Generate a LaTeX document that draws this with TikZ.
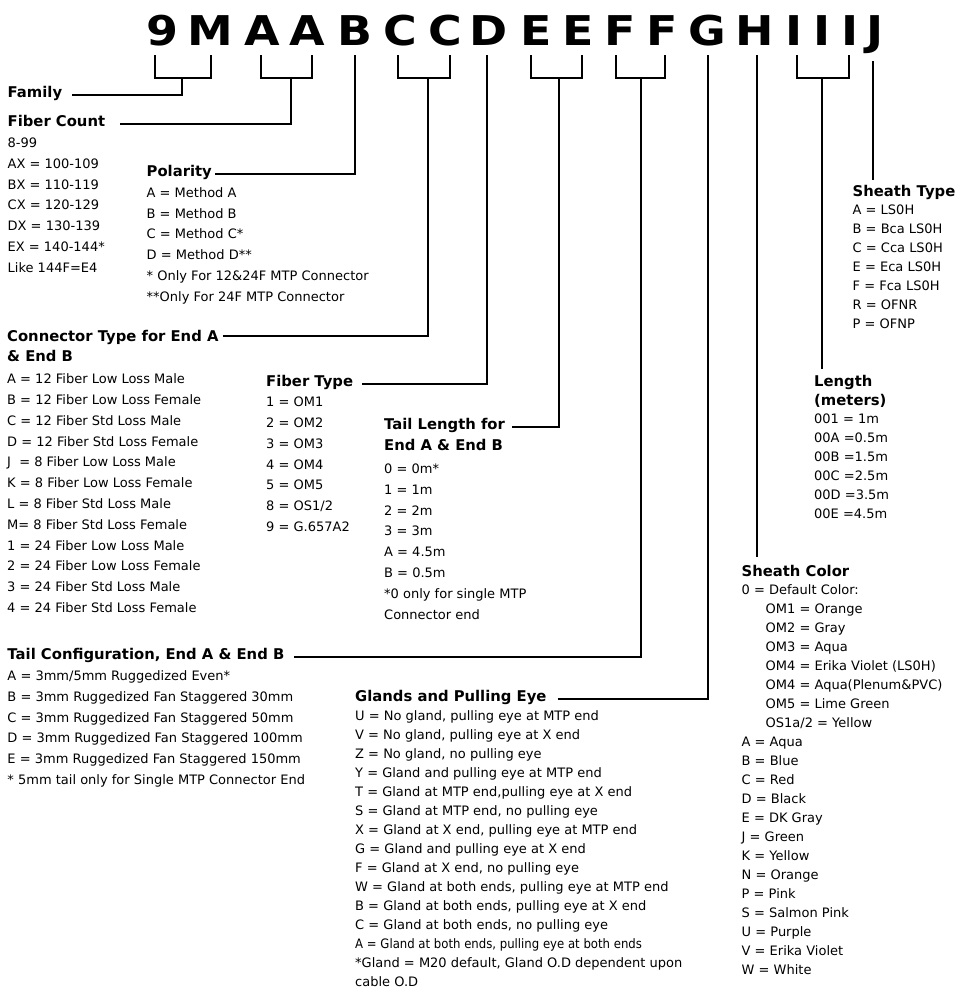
\documentclass[tikz,border=0pt]{standalone}
\usepackage{fontspec}
\setmainfont{DejaVu Sans}
\newfontfamily\codefont{DejaVu Sans Bold}[FakeStretch=1.12]
\usetikzlibrary{positioning}

\begin{document}
\begin{tikzpicture}[
    x=1pt, y=-1pt,
    code/.style={font=\fontsize{41}{41}\selectfont\codefont, anchor=base, inner sep=0pt},
    title/.style={font=\fontsize{14.8}{20.3}\selectfont\bfseries, inner sep=0pt, anchor=base west},
    items/.style={font=\fontsize{13}{20.8}\selectfont, align=left, inner sep=0pt, anchor=base west},
    tight/.style={items, font=\fontsize{13}{19}\selectfont},
    lead/.style={line width=1.7pt},
    tie/.style={lead, shorten <=7pt}
]
\useasboundingbox (0,0) rectangle (968,989);

% Part number
\node[code] (c1) at (162,45) {9};
\node[code] (c2) at (210,45) {M};
\node[code] (c3) at (262,45) {A};
\node[code] (c4) at (307.5,45) {A};
\node[code] (c5) at (355,45) {B};
\node[code] (c6) at (400,45) {C};
\node[code] (c7) at (445,45) {C};
\node[code] (c8) at (489,45) {D};
\node[code] (c9) at (536,45) {E};
\node[code] (c10) at (578,45) {E};
\node[code] (c11) at (620,45) {F};
\node[code] (c12) at (662,45) {F};
\node[code] (c13) at (707,45) {G};
\node[code] (c14) at (755,45) {H};
\node[code] (c15) at (794,45) {I};
\node[code] (c16) at (822,45) {I};
\node[code] (c17) at (850,45) {I};
\node[code] (c18) at (875,45) {J};

% Brackets and stems
\draw[lead] (155,55) |- (211,78) -- (211,55);
\draw[lead] (261,55) |- (312,78) -- (312,55);
\draw[lead] (398,55) |- (450,78) -- (450,55);
\draw[lead] (531,55) |- (582,78) -- (582,55);
\draw[lead] (616,55) |- (665,78) -- (665,55);
\draw[lead] (797,55) |- (849,78) -- (849,55);
\coordinate (famjoin) at (182,78);
\coordinate (fcjoin) at (291,78);
\coordinate (btop) at (355,55);
\coordinate (ccjoin) at (428,78);
\coordinate (dtop) at (487,55);
\coordinate (eejoin) at (559,78);
\coordinate (ffjoin) at (641,78);
\coordinate (gtop) at (708,55);
\coordinate (htop) at (757,55);
\coordinate (iiijoin) at (822,78);
\coordinate (jtop) at (873,61);

% Family
\node[title] (fam) at (7.5,97.5) {Family};

% Fiber count (lists hang on their last line)
\node[title] (fct) at (7.5,126.5) {Fiber Count};
\node[items, below=145.8pt of fct.base west, anchor=base west] (fcl) {8-99\\AX = 100-109\\BX = 110-119\\CX = 120-129\\DX = 130-139\\EX = 140-144*\\Like 144F=E4};

% Polarity
\node[title] (pol) at (146.5,176.7) {Polarity};
\node[items, below=124.6pt of pol.base west, anchor=base west] (poll) {A = Method A\\B = Method B\\C = Method C*\\D = Method D**\\* Only For 12\&24F MTP Connector\\**Only For 24F MTP Connector};

% Connector type
\node[title] (con) at (7,341.5) {Connector Type for End A};
\node[title, below=20.3pt of con.base west, anchor=base west] (con2) {\& End B};
\node[items, below=250.6pt of con2.base west, anchor=base west] (conl) {A = 12 Fiber Low Loss Male\\B = 12 Fiber Low Loss Female\\C = 12 Fiber Std Loss Male\\D = 12 Fiber Std Loss Female\\J~ = 8 Fiber Low Loss Male\\K = 8 Fiber Low Loss Female\\L = 8 Fiber Std Loss Male\\M= 8 Fiber Std Loss Female\\1 = 24 Fiber Low Loss Male\\2 = 24 Fiber Low Loss Female\\3 = 24 Fiber Std Loss Male\\4 = 24 Fiber Std Loss Female};

% Fiber type
\node[title] (ftt) at (266,386.7) {Fiber Type};
\node[items, below=144.8pt of ftt.base west, anchor=base west] (ftl) {1 = OM1\\2 = OM2\\3 = OM3\\4 = OM4\\5 = OM5\\8 = OS1/2\\9 = G.657A2};

% Tail length
\node[title] (tlt) at (384,429.5) {Tail Length for};
\node[title, below=20.5pt of tlt.base west, anchor=base west] (tlt2) {End A \& End B};
\node[items, below=169.1pt of tlt2.base west, anchor=base west] (tll) {0 = 0m*\\1 = 1m\\2 = 2m\\3 = 3m\\A = 4.5m\\B = 0.5m\\*0 only for single MTP\\Connector end};

% Tail configuration
\node[title] (tct) at (7.3,659.5) {Tail Configuration, End A \& End B};
\node[items, below=125pt of tct.base west, anchor=base west] (tcl) {A = 3mm/5mm Ruggedized Even*\\B = 3mm Ruggedized Fan Staggered 30mm\\C = 3mm Ruggedized Fan Staggered 50mm\\D = 3mm Ruggedized Fan Staggered 100mm\\E = 3mm Ruggedized Fan Staggered 150mm\\* 5mm tail only for Single MTP Connector End};

% Glands and pulling eye
\node[title] (glt) at (355,701.7) {Glands and Pulling Eye};
\node[tight, below=284.3pt of glt.base west, anchor=base west] (gll) {U = No gland, pulling eye at MTP end\\V = No gland, pulling eye at X end\\Z = No gland, no pulling eye\\Y = Gland and pulling eye at MTP end\\T = Gland at MTP end,pulling eye at X end\\S = Gland at MTP end, no pulling eye\\X = Gland at X end, pulling eye at MTP end\\G = Gland and pulling eye at X end\\F = Gland at X end, no pulling eye\\W = Gland at both ends, pulling eye at MTP end\\B = Gland at both ends, pulling eye at X end\\C = Gland at both ends, no pulling eye\\\scalebox{0.9}[1]{A = Gland at both ends, pulling eye at both ends}\\*Gland = M20 default, Gland O.D dependent upon\\cable O.D};

% Sheath type
\node[title] (stt) at (852.5,196) {Sheath Type};
\node[tight, below=132.5pt of stt.base west, anchor=base west] (stl) {A = LS0H\\B = Bca LS0H\\C = Cca LS0H\\E = Eca LS0H\\F = Fca LS0H\\R = OFNR\\P = OFNP};

% Length
\node[title] (lent) at (814,386) {Length};
\node[title, below=19pt of lent.base west, anchor=base west] (lent2) {(meters)};
\node[tight, below=113.5pt of lent2.base west, anchor=base west] (lenl) {001 = 1m\\00A =0.5m\\00B =1.5m\\00C =2.5m\\00D =3.5m\\00E =4.5m};

% Sheath color
\node[title] (sct) at (741.5,576) {Sheath Color};
\node[tight, below=398.5pt of sct.base west, anchor=base west] (scl) {0 = Default Color:\\\hspace*{24pt}OM1 = Orange\\\hspace*{24pt}OM2 = Gray\\\hspace*{24pt}OM3 = Aqua\\\hspace*{24pt}OM4 = Erika Violet (LS0H)\\\hspace*{24pt}OM4 = Aqua(Plenum\&PVC)\\\hspace*{24pt}OM5 = Lime Green\\\hspace*{24pt}OS1a/2 = Yellow\\A = Aqua\\B = Blue\\C = Red\\D = Black\\E = DK Gray\\J = Green\\K = Yellow\\N = Orange\\P = Pink\\S = Salmon Pink\\U = Purple\\V = Erika Violet\\W = White};

% Leader lines
\draw[tie, shorten <=10pt] (fam.mid east) -| (famjoin);
\draw[tie, shorten <=15pt] (fct.mid east) -| (fcjoin);
\draw[tie, shorten <=3pt] (pol.mid east) -| (btop);
\draw[tie, shorten <=4pt] ([yshift=3pt]con.mid east) -| (ccjoin);
\draw[tie, shorten <=9pt] (ftt.mid east) -| (dtop);
\draw[tie] (tlt.mid east) -| (eejoin);
\draw[tie, shorten <=10pt] (tct.mid east) -| (ffjoin);
\draw[tie, shorten <=11pt] (glt.mid east) -| (gtop);
\draw[lead, shorten >=8pt] (htop) -- (htop |- sct.north);
\draw[lead, shorten >=6pt] (iiijoin) -- (iiijoin |- lent.north);
\draw[lead, shorten >=5pt] (jtop) -- (jtop |- stt.north);

\end{tikzpicture}
\end{document}
